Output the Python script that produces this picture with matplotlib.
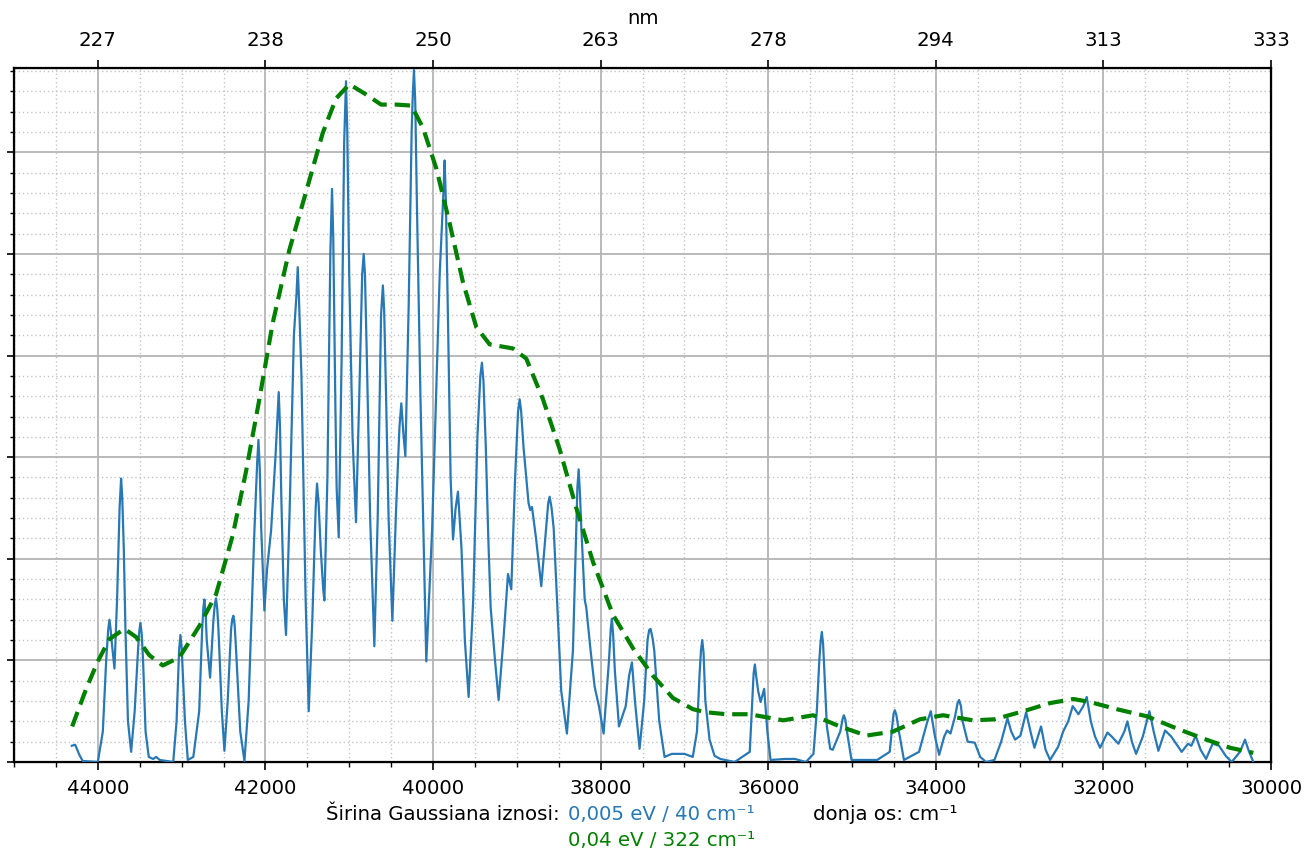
import matplotlib
matplotlib.use("Agg")
import matplotlib.pyplot as plt
from matplotlib.ticker import MultipleLocator, NullFormatter

# ---------------- data ----------------
# fine-broadened spectrum (Gaussian width 40 cm-1): (wavenumber cm-1, intensity a.u.)
blue_points = [
    (44310, 0.16), (44270, 0.17), (44220, 0.07), (44180, 0.01), (44000, 0.00),
    (43940, 0.30), (43900, 1.00), (43876, 1.30), (43861, 1.40), (43846, 1.30),
    (43830, 1.15), (43801, 0.92), (43770, 1.60), (43740, 2.50), (43722, 2.79),
    (43708, 2.60), (43690, 2.10), (43670, 1.30), (43640, 0.40), (43602, 0.10),
    (43560, 0.50), (43520, 1.10), (43506, 1.28), (43491, 1.37), (43476, 1.26),
    (43460, 1.00), (43430, 0.30), (43392, 0.05), (43340, 0.03), (43304, 0.05),
    (43260, 0.02), (43100, 0.00), (43060, 0.40), (43030, 1.10), (43014, 1.25),
    (42999, 1.12), (42960, 0.40), (42926, 0.02), (42860, 0.05), (42790, 0.50),
    (42755, 1.30), (42740, 1.52), (42728, 1.60), (42713, 1.45), (42700, 1.20),
    (42660, 0.83), (42620, 1.40), (42604, 1.55), (42589, 1.61), (42574, 1.50),
    (42560, 1.30), (42520, 0.50), (42489, 0.11), (42450, 0.60), (42410, 1.30),
    (42397, 1.40), (42382, 1.44), (42367, 1.35), (42350, 1.10), (42300, 0.30),
    (42250, 0.01), (42200, 0.60), (42130, 2.30), (42098, 2.95), (42083, 3.17),
    (42068, 2.90), (42050, 2.30), (42012, 1.49), (41980, 1.90), (41932, 2.28),
    (41880, 3.00), (41856, 3.40), (41841, 3.64), (41826, 3.30), (41810, 2.60),
    (41780, 1.60), (41754, 1.25), (41710, 2.50), (41660, 4.20), (41629, 4.60),
    (41614, 4.87), (41599, 4.55), (41570, 3.80), (41520, 1.60), (41483, 0.50),
    (41440, 1.40), (41400, 2.50), (41384, 2.74), (41365, 2.55), (41340, 2.10),
    (41310, 1.70), (41296, 1.59), (41260, 2.80), (41225, 5.00), (41205, 5.64),
    (41190, 5.15), (41165, 3.50), (41150, 2.70), (41125, 2.21), (41090, 4.00),
    (41060, 6.10), (41038, 6.70), (41023, 6.20), (41000, 4.80), (40960, 3.20),
    (40919, 2.36), (40880, 3.60), (40845, 4.80), (40827, 5.00), (40812, 4.80),
    (40790, 4.00), (40750, 2.40), (40700, 1.14), (40660, 2.40), (40620, 4.40),
    (40598, 4.69), (40583, 4.45), (40560, 3.60), (40530, 2.40), (40485, 1.39),
    (40440, 2.50), (40400, 3.30), (40378, 3.53), (40355, 3.25), (40330, 3.01),
    (40290, 4.50), (40255, 6.20), (40242, 6.55), (40227, 6.81), (40212, 6.50),
    (40190, 5.40), (40150, 3.60), (40080, 0.99), (40010, 2.30), (39920, 4.80),
    (39876, 5.60), (39861, 5.92), (39846, 5.50), (39820, 4.30), (39790, 2.80),
    (39761, 2.19), (39730, 2.50), (39702, 2.66), (39660, 2.10), (39620, 1.20),
    (39575, 0.64), (39520, 1.60), (39470, 3.20), (39435, 3.80), (39416, 3.93),
    (39398, 3.75), (39370, 3.10), (39340, 2.20), (39312, 1.52), (39260, 1.00),
    (39217, 0.61), (39160, 1.20), (39105, 1.85), (39066, 1.70), (39020, 2.80),
    (38985, 3.45), (38966, 3.57), (38948, 3.45), (38920, 3.10), (38860, 2.55),
    (38840, 2.48), (38819, 2.51), (38770, 2.20), (38708, 1.73), (38650, 2.30),
    (38625, 2.55), (38608, 2.61), (38585, 2.50), (38560, 2.30), (38520, 1.60),
    (38470, 0.70), (38402, 0.28), (38330, 1.10), (38290, 2.30), (38277, 2.70),
    (38262, 2.88), (38247, 2.65), (38230, 2.30), (38190, 1.60), (38171, 1.52),
    (38120, 1.10), (38071, 0.74), (38020, 0.55), (37964, 0.28), (37900, 1.00),
    (37878, 1.32), (37865, 1.41), (37850, 1.25), (37830, 0.90), (37781, 0.35),
    (37740, 0.45), (37700, 0.55), (37660, 0.85), (37626, 0.98), (37590, 0.60),
    (37535, 0.13), (37480, 0.60), (37440, 1.20), (37420, 1.30), (37404, 1.31),
    (37380, 1.22), (37360, 1.10), (37300, 0.40), (37237, 0.05), (37150, 0.08),
    (37000, 0.08), (36900, 0.05), (36850, 0.30), (36820, 0.85), (36802, 1.10),
    (36787, 1.20), (36772, 1.08), (36750, 0.60), (36700, 0.22), (36640, 0.06),
    (36570, 0.03), (36400, 0.00), (36220, 0.10), (36190, 0.60), (36174, 0.87),
    (36159, 0.96), (36144, 0.85), (36120, 0.70), (36091, 0.59), (36048, 0.72),
    (36010, 0.30), (35972, 0.02), (35800, 0.03), (35680, 0.03), (35550, 0.00),
    (35460, 0.08), (35420, 0.50), (35390, 1.00), (35375, 1.18), (35360, 1.28),
    (35345, 1.16), (35330, 0.90), (35300, 0.35), (35260, 0.13), (35230, 0.12),
    (35140, 0.30), (35110, 0.43), (35097, 0.46), (35080, 0.42), (35060, 0.30),
    (35006, 0.02), (34700, 0.02), (34550, 0.10), (34505, 0.47), (34489, 0.51),
    (34470, 0.46), (34440, 0.30), (34380, 0.02), (34200, 0.10), (34100, 0.40),
    (34060, 0.50), (34010, 0.25), (33960, 0.07), (33900, 0.25), (33865, 0.31),
    (33825, 0.28), (33770, 0.45), (33740, 0.58), (33722, 0.61), (33700, 0.55),
    (33680, 0.40), (33620, 0.20), (33535, 0.19), (33470, 0.05), (33400, 0.00),
    (33300, 0.02), (33220, 0.20), (33145, 0.43), (33100, 0.30), (33054, 0.22),
    (32990, 0.26), (32922, 0.49), (32870, 0.30), (32823, 0.14), (32744, 0.35),
    (32690, 0.12), (32636, 0.02), (32540, 0.15), (32480, 0.30), (32420, 0.40),
    (32366, 0.55), (32298, 0.47), (32240, 0.55), (32199, 0.64), (32150, 0.40),
    (32100, 0.25), (32040, 0.14), (31952, 0.29), (31900, 0.25), (31821, 0.18),
    (31750, 0.30), (31714, 0.40), (31660, 0.20), (31610, 0.08), (31530, 0.25),
    (31451, 0.50), (31400, 0.30), (31344, 0.11), (31264, 0.31), (31190, 0.25),
    (31066, 0.10), (30990, 0.18), (30950, 0.16), (30899, 0.26), (30840, 0.12),
    (30775, 0.03), (30696, 0.18), (30620, 0.16), (30540, 0.06), (30469, 0.00),
    (30370, 0.10), (30310, 0.22), (30270, 0.12), (30211, 0.00),
]

# coarse-broadened spectrum (Gaussian width 322 cm-1)
green_x = [44306, 44139, 44000, 43861, 43682, 43543, 43384, 43225, 43026, 42787,
           42589, 42390, 42231, 42072, 41913, 41714, 41515, 41316, 41157, 40998,
           40799, 40620, 40437, 40258, 40119, 39960, 39801, 39642, 39483, 39324,
           39046, 38887, 38688, 38489, 38290, 38091, 37853, 37614, 37376, 37137,
           36899, 36750, 36497, 36219, 35821, 35463, 35145, 34827, 34509, 34191,
           33913, 33555, 33300, 32954, 32636, 32358, 32159, 31841, 31483, 31125,
           30807, 30489, 30211]
green_y = [0.35, 0.72, 0.99, 1.21, 1.31, 1.23, 1.05, 0.95, 1.03, 1.34,
           1.65, 2.23, 2.86, 3.57, 4.32, 5.04, 5.61, 6.19, 6.53, 6.67,
           6.57, 6.47, 6.47, 6.46, 6.24, 5.84, 5.30, 4.72, 4.28, 4.11,
           4.07, 3.97, 3.57, 3.08, 2.50, 1.97, 1.45, 1.12, 0.85, 0.63,
           0.52, 0.49, 0.47, 0.47, 0.41, 0.46, 0.35, 0.26, 0.30, 0.42,
           0.46, 0.41, 0.42, 0.50, 0.58, 0.62, 0.59, 0.52, 0.45, 0.33,
           0.23, 0.14, 0.09]

# axis ticks / labels
cm_ticks = [44000, 42000, 40000, 38000, 36000, 34000, 32000, 30000]
nm_labels = ["227", "238", "250", "263", "278", "294", "313", "333"]

label_intro = "Širina Gaussiana iznosi:"
label_blue = "0,005 eV / 40 cm\u207b\u00b9"
label_green = "0,04 eV / 322 cm\u207b\u00b9"
label_axis = "donja os: cm\u207b\u00b9"

# ---------------- plotting ----------------
BLUE = "#2878b5"
GREEN = "#008000"
FS = 14.2

blue_x = [p[0] for p in blue_points]
blue_y = [p[1] for p in blue_points]

fig = plt.figure(figsize=(13.06, 8.52), dpi=100)
ax = fig.add_axes([14 / 1306, 1 - 762 / 852, (1271 - 14) / 1306, (762 - 68) / 852])

ax.plot(blue_x, blue_y, color=BLUE, lw=1.6, zorder=3, solid_joinstyle="round")
ax.plot(green_x, green_y, color=GREEN, lw=3.0, ls=(0, (3.7, 1.9)), zorder=4)

ax.set_xlim(45000, 30000)
ax.set_ylim(0, 6.83)

ax.set_xticks(cm_ticks)
ax.set_xticklabels([str(t) for t in cm_ticks], fontsize=FS)
ax.xaxis.set_minor_locator(MultipleLocator(500))
ax.yaxis.set_major_locator(MultipleLocator(1.0))
ax.yaxis.set_minor_locator(MultipleLocator(0.2))
ax.yaxis.set_major_formatter(NullFormatter())
ax.tick_params(axis="x", which="major", length=6, width=1.2, pad=6)
ax.tick_params(axis="x", which="minor", length=3.5, width=1)
ax.tick_params(axis="y", which="major", length=5, width=1.2)
ax.tick_params(axis="y", which="minor", length=3, width=1)
ax.tick_params(right=False, top=False, which="both")

ax.grid(which="major", color="#b4b4b4", lw=1.3, ls="-", zorder=0)
ax.grid(which="minor", color="#c4c4c4", lw=1.0, ls=(0, (1, 2)), zorder=0)

for sp in ax.spines.values():
    sp.set_linewidth(1.6)
    sp.set_color("black")

ax2 = ax.twiny()
ax2.set_xlim(ax.get_xlim())
ax2.set_xticks(cm_ticks)
ax2.set_xticklabels(nm_labels, fontsize=FS)
ax2.tick_params(axis="x", which="major", length=6, width=1.2, pad=7)
ax2.set_xlabel("nm", fontsize=FS, labelpad=5)

fig.text(326 / 1306, 1 - 815 / 852, label_intro, fontsize=FS, ha="left", va="center", color="black")
fig.text(568 / 1306, 1 - 815 / 852, label_blue, fontsize=FS, ha="left", va="center", color=BLUE)
fig.text(813 / 1306, 1 - 815 / 852, label_axis, fontsize=FS, ha="left", va="center", color="black")
fig.text(568 / 1306, 1 - 840 / 852, label_green, fontsize=FS, ha="left", va="center", color=GREEN)

fig.savefig("out.png", dpi=100)
